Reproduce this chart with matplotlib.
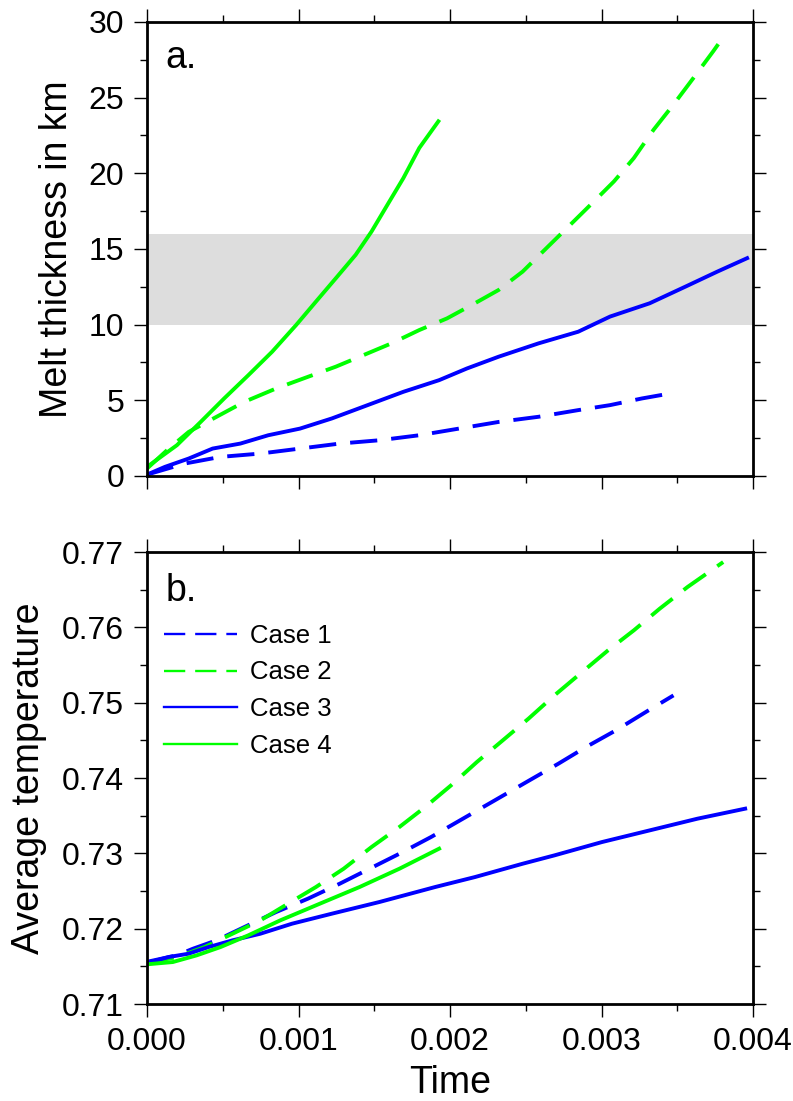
import matplotlib
matplotlib.use("Agg")
import matplotlib.pyplot as plt
from matplotlib.lines import Line2D
from matplotlib.ticker import MultipleLocator, FormatStrFormatter

plt.rcParams['font.family'] = ['Liberation Sans', 'DejaVu Sans']

# ---- panel a: melt thickness (km) ----
a_case1_t = [0, 0.000249, 0.000485, 0.000748, 0.00101, 0.001272, 0.001535, 0.001797,
             0.002059, 0.002321, 0.002584, 0.002846, 0.003056, 0.003266, 0.003475]
a_case1_y = [0.09, 0.82, 1.26, 1.48, 1.81, 2.14, 2.36, 2.69, 3.13, 3.57, 3.91, 4.35,
             4.68, 5.12, 5.49]

a_case2_t = [0, 0.000144, 0.000275, 0.000459, 0.000643, 0.000852, 0.001062, 0.001246,
             0.00143, 0.001613, 0.001797, 0.00198, 0.002164, 0.002321, 0.002479,
             0.002636, 0.002793, 0.00295, 0.003082, 0.003213, 0.003344, 0.003475,
             0.003607, 0.003738, 0.003803]
a_case2_y = [0.49, 1.81, 2.91, 3.91, 4.9, 5.78, 6.55, 7.22, 7.99, 8.76, 9.64, 10.41,
             11.41, 12.29, 13.5, 15.05, 16.59, 18.14, 19.46, 21.0, 22.88, 24.54,
             26.3, 28.07, 28.99]

a_case3_t = [0, 0.000118, 0.000275, 0.000433, 0.000616, 0.0008, 0.00101, 0.00122,
             0.001456, 0.001692, 0.001928, 0.002111, 0.002321, 0.002584, 0.002846,
             0.003056, 0.003318, 0.003554, 0.003764, 0.003961]
a_case3_y = [0.09, 0.6, 1.15, 1.81, 2.14, 2.69, 3.13, 3.8, 4.68, 5.56, 6.33, 7.1,
             7.88, 8.76, 9.53, 10.53, 11.41, 12.51, 13.5, 14.39]

a_case4_t = [0, 0.000197, 0.000354, 0.000511, 0.000669, 0.000826, 0.000984, 0.001115,
             0.001246, 0.001377, 0.001482, 0.001587, 0.001692, 0.001797, 0.001923]
a_case4_y = [0.6, 2.03, 3.57, 5.14, 6.66, 8.21, 9.97, 11.52, 13.06, 14.61, 16.15,
             17.92, 19.68, 21.67, 23.43]

band_lo, band_hi = 10, 16

# ---- panel b: average temperature ----
b_case1_t = [0, 0.000197, 0.000302, 0.000459, 0.000643, 0.000852, 0.001062, 0.001272,
             0.001469, 0.001666, 0.001875, 0.002085, 0.002295, 0.002505, 0.002715,
             0.002898, 0.003095, 0.003292, 0.003475]
b_case1_y = [0.7156, 0.71646, 0.71733, 0.71845, 0.72022, 0.72221, 0.72398, 0.72597,
             0.72796, 0.72995, 0.73217, 0.7346, 0.73703, 0.73947, 0.7419, 0.74412,
             0.74633, 0.74876, 0.75097]

b_case2_t = [0, 0.000197, 0.00038, 0.000564, 0.000748, 0.000931, 0.001115, 0.001298,
             0.001482, 0.001666, 0.001836, 0.002007, 0.002177, 0.002348, 0.002518,
             0.002689, 0.002859, 0.003043, 0.003213, 0.003384, 0.003567, 0.003803]
b_case2_y = [0.71545, 0.71623, 0.71756, 0.71933, 0.7211, 0.72332, 0.72553, 0.72796,
             0.73084, 0.7335, 0.73615, 0.73903, 0.74212, 0.745, 0.74788, 0.75097,
             0.75385, 0.75695, 0.7596, 0.76248, 0.76535, 0.76867]

b_case3_t = [0, 0.000144, 0.000275, 0.000407, 0.000564, 0.000748, 0.000957, 0.00122,
             0.001534, 0.001902, 0.002164, 0.002479, 0.002689, 0.003003, 0.003318,
             0.003633, 0.003948]
b_case3_y = [0.71545, 0.71624, 0.71668, 0.71756, 0.71845, 0.71933, 0.72066, 0.72199,
             0.72354, 0.72553, 0.72685, 0.72862, 0.72973, 0.7315, 0.73305, 0.7346,
             0.73593]

b_case4_t = [0, 0.00017, 0.000328, 0.000485, 0.000669, 0.000879, 0.001141, 0.001403,
             0.001666, 0.001928]
b_case4_y = [0.71527, 0.71557, 0.71646, 0.71756, 0.71912, 0.7211, 0.72332, 0.72553,
             0.72796, 0.73062]

case_labels = ["Case 1", "Case 2", "Case 3", "Case 4"]
blue = "#0000ff"
green = "#00ff00"
dash = (7, 3.6)
lw = 2.8


def style_axes(ax, ymin, ymax, ymaj, ymin_step, yfmt, show_x):
    ax.set_xlim(0, 0.004)
    ax.set_ylim(ymin, ymax)
    ax.xaxis.set_major_locator(MultipleLocator(0.001))
    ax.xaxis.set_minor_locator(MultipleLocator(0.0005))
    ax.yaxis.set_major_locator(MultipleLocator(ymaj))
    ax.yaxis.set_minor_locator(MultipleLocator(ymin_step))
    ax.xaxis.set_major_formatter(FormatStrFormatter('%.3f'))
    ax.yaxis.set_major_formatter(FormatStrFormatter(yfmt))
    ax.tick_params(which='both', direction='out', top=True, right=True,
                   width=1.0, labelsize=23, pad=7)
    ax.tick_params(which='major', length=9.4)
    ax.tick_params(which='minor', length=5)
    if not show_x:
        ax.tick_params(labelbottom=False)
    for s in ax.spines.values():
        s.set_linewidth(2.0)


fig = plt.figure(figsize=(7.93, 11.01), dpi=100)
ax1 = fig.add_axes([0.1854, 0.5677, 0.7642, 0.4124])
ax2 = fig.add_axes([0.1854, 0.0881, 0.7642, 0.4105])

# panel a
ax1.axhspan(band_lo, band_hi, color='#dddddd', lw=0, zorder=0)
ax1.plot(a_case1_t, a_case1_y, color=blue, lw=lw, dashes=dash)
ax1.plot(a_case2_t, a_case2_y, color=green, lw=lw, dashes=dash)
ax1.plot(a_case3_t, a_case3_y, color=blue, lw=lw)
ax1.plot(a_case4_t, a_case4_y, color=green, lw=lw)
style_axes(ax1, 0, 30, 5, 2.5, '%d', False)
ax1.set_ylabel("Melt thickness in km", fontsize=27, labelpad=10)
ax1.text(0.030, 0.899, "a.", transform=ax1.transAxes, fontsize=27, va='baseline')

# panel b
ax2.plot(b_case1_t, b_case1_y, color=blue, lw=lw, dashes=dash)
ax2.plot(b_case2_t, b_case2_y, color=green, lw=lw, dashes=dash)
ax2.plot(b_case3_t, b_case3_y, color=blue, lw=lw)
ax2.plot(b_case4_t, b_case4_y, color=green, lw=lw)
style_axes(ax2, 0.71, 0.77, 0.01, 0.005, '%.2f', True)
ax2.set_ylabel("Average temperature", fontsize=27, labelpad=11)
ax2.set_xlabel("Time", fontsize=27, labelpad=6)
ax2.text(0.030, 0.892, "b.", transform=ax2.transAxes, fontsize=27, va='baseline')

handles = [
    Line2D([], [], color=blue, lw=1.7, dashes=(9, 4.2)),
    Line2D([], [], color=green, lw=1.7, dashes=(9, 4.2)),
    Line2D([], [], color=blue, lw=1.7),
    Line2D([], [], color=green, lw=1.7),
]
ax2.legend(handles, case_labels, loc='upper left', bbox_to_anchor=(0.028, 0.841),
           frameon=False, fontsize=18.5, handlelength=2.84, handletextpad=0.5,
           labelspacing=0.49, borderpad=0, borderaxespad=0)

fig.savefig("out.png", dpi=100)
